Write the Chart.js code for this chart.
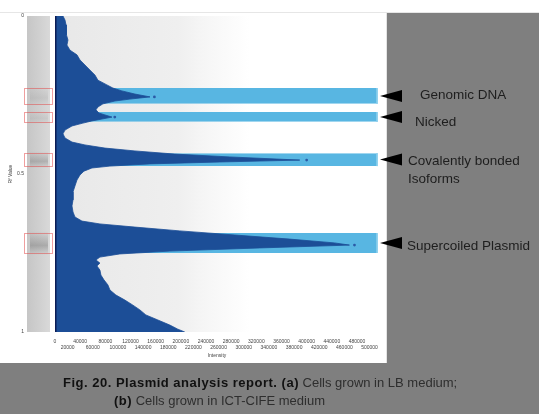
<!DOCTYPE html>
<html>
<head>
<meta charset="utf-8">
<script src="https://cdn.jsdelivr.net/npm/chart.js@4.4.1/dist/chart.umd.min.js"></script>
<style>
  body { margin: 0; width: 539px; height: 414px; background: #7f7f7f; position: relative; overflow: hidden;
         font-family: "Liberation Sans", Arial, sans-serif; }
  #panel { position: absolute; left: 0; top: 0; width: 386px; height: 363px; background: #fff; border-right: 1px solid #e4e4e4; }
  #strip { position: absolute; left: 0; top: 0; width: 539px; height: 12px; background: #fff; border-bottom: 1px solid #e6e6e6; }
  #chart { position: absolute; left: 0; top: 0; }
  .cap { position: absolute; font-size: 13px; color: #2e2e2e; white-space: nowrap; }
  .cap b { color: #111; letter-spacing: 0.5px; }
</style>
</head>
<body>
<div id="panel"></div>
<div id="strip"></div>
<canvas id="chart" width="539" height="414"></canvas>
<div class="cap" style="left:63px; top:375px;"><b>Fig. 20. Plasmid analysis report. (a)</b> Cells grown in LB medium;</div>
<div class="cap" style="left:114px; top:393px;"><b>(b)</b> Cells grown in ICT-CIFE medium</div>
<script>
// Densitometry profile: Rf value vs intensity
const rfValues = [
  0, 0.013, 0.028, 0.044, 0.060, 0.076, 0.092, 0.108, 0.123, 0.139, 0.155, 0.171, 0.187, 0.203, 0.218,
  0.228, 0.237, 0.247, 0.256, 0.263, 0.269, 0.278, 0.288, 0.297, 0.307, 0.313, 0.320, 0.326, 0.332, 0.339,
  0.348, 0.361, 0.373, 0.386, 0.399, 0.408, 0.418, 0.427, 0.437, 0.446, 0.456, 0.462, 0.468, 0.475, 0.481,
  0.491, 0.503, 0.519, 0.538, 0.557, 0.582, 0.601, 0.620, 0.636, 0.649, 0.658, 0.668, 0.680, 0.693, 0.706,
  0.718, 0.725, 0.734, 0.744, 0.753, 0.763, 0.772, 0.782, 0.791, 0.804, 0.820, 0.835, 0.851, 0.867, 0.883,
  0.899, 0.915, 0.930, 0.946, 0.962, 0.978, 0.991, 1
];
const intensities = [
  12700, 15900, 17500, 19000, 17500, 20600, 19000, 23800, 34900, 39700, 47600, 55500, 63500, 68200, 82500,
  92000, 106300, 127000, 151000, 119000, 95200, 76200, 68200, 65100, 69800, 79400, 90500, 74600, 58700, 44400,
  27000, 15900, 12700, 15900, 27000, 47600, 79400, 127000, 190400, 277700, 389000, 262000, 150800, 87300, 58700,
  46000, 39700, 34900, 31700, 28600, 28600, 27000, 28600, 31700, 42800, 71400, 127000, 198400, 285700, 373000,
  444000, 468000, 325000, 182500, 103000, 71400, 65100, 71400, 66700, 71400, 73000, 77800, 84100, 87300, 96800,
  111100, 123800, 134900, 144400, 163500, 182500, 195200, 206300
];

// Detected bands
const bandNames = ['Genomic DNA', 'Nicked', 'Covalently bonded\nIsoforms', 'Supercoiled Plasmid'];
const bandTop = [0.228, 0.304, 0.434, 0.687];
const bandBottom = [0.278, 0.335, 0.475, 0.750];
const bandEnd = [512000, 512000, 512000, 512000];
const peakRf = [0.256, 0.320, 0.456, 0.725];
const peakMark = [158000, 95000, 400000, 476000];

// Axis ticks
const xTickValues = [0, 20000, 40000, 60000, 80000, 100000, 120000, 140000, 160000, 180000, 200000, 220000, 240000,
  260000, 280000, 300000, 320000, 340000, 360000, 380000, 400000, 420000, 440000, 460000, 480000, 500000];
const yTickValues = [0, 0.5, 1];

const FONT = '"Liberation Sans", Arial, sans-serif';

const profile = rfValues.map((r, i) => ({ x: intensities[i], y: r }));
const peaks = peakRf.map((r, i) => ({ x: peakMark[i], y: r }));
const bandSets = bandNames.map((n, i) => ({
  label: n,
  data: [{ x: bandEnd[i], y: bandTop[i] }, { x: bandEnd[i], y: bandBottom[i] }],
  fill: 'origin',
  backgroundColor: '#58b6e2',
  borderColor: '#8fd0ee',
  borderWidth: 1,
  pointRadius: 0,
  order: 3
}));

// plot background + gel lane on the left
const lanePlugin = {
  id: 'lane',
  beforeDatasetsDraw(chart) {
    const { ctx, chartArea: a, scales: { y } } = chart;
    ctx.save();
    const g = ctx.createLinearGradient(a.left, 0, a.right, 0);
    g.addColorStop(0, '#e8e8e8');
    g.addColorStop(0.38, '#efefef');
    g.addColorStop(0.45, '#f5f5f5');
    g.addColorStop(0.6, '#ffffff');
    g.addColorStop(1, '#ffffff');
    ctx.fillStyle = g;
    ctx.fillRect(a.left, a.top, a.width, a.height);

    const top = y.getPixelForValue(0), bot = y.getPixelForValue(1);
    const lg = ctx.createLinearGradient(27, 0, 50, 0);
    lg.addColorStop(0, '#c6c6c6');
    lg.addColorStop(0.5, '#cfcfcf');
    lg.addColorStop(1, '#d9d9d9');
    ctx.fillStyle = lg;
    ctx.fillRect(27, top, 23, bot - top);

    const shade = [0.12, 0.1, 0.3, 0.35];
    bandNames.forEach((n, i) => {
      const y0 = y.getPixelForValue(bandTop[i]), y1 = y.getPixelForValue(bandBottom[i]);
      const bg = ctx.createLinearGradient(0, y0 - 2, 0, y1 + 2);
      bg.addColorStop(0, 'rgba(90,90,90,0)');
      bg.addColorStop(0.6, `rgba(90,90,90,${shade[i]})`);
      bg.addColorStop(1, 'rgba(90,90,90,0)');
      ctx.fillStyle = bg;
      ctx.fillRect(30, y0 - 2, 18, y1 - y0 + 4);
      ctx.strokeStyle = 'rgba(225,80,80,0.55)';
      ctx.lineWidth = 1;
      ctx.strokeRect(24.5, Math.round(y0) + 0.5, 28, Math.round(y1 - y0));
    });
    ctx.restore();
  }
};

// arrows and band names in the grey margin
const labelPlugin = {
  id: 'bandLabels',
  afterDraw(chart) {
    const { ctx, chartArea: a, scales: { y } } = chart;
    const indent = [13, 8, 1, 0];
    const dy = [-1, 5, 2, 3];
    ctx.save();
    ctx.font = '13.5px ' + FONT;
    ctx.textBaseline = 'middle';
    bandNames.forEach((name, i) => {
      const cy = y.getPixelForValue((bandTop[i] + bandBottom[i]) / 2);
      ctx.fillStyle = '#000';
      ctx.beginPath();
      ctx.moveTo(a.right + 1, cy);
      ctx.lineTo(a.right + 23, cy - 6);
      ctx.lineTo(a.right + 23, cy + 6);
      ctx.closePath();
      ctx.fill();
      ctx.fillStyle = '#1e1e1e';
      name.split('\n').forEach((line, k) => {
        ctx.fillText(line, a.right + 28 + indent[i], cy + dy[i] + k * 18);
      });
    });
    ctx.restore();
  }
};

new Chart(document.getElementById('chart'), {
  type: 'line',
  data: {
    datasets: [
      { label: 'Baseline', data: [{ x: 0, y: 0 }, { x: 0, y: 1 }], borderColor: '#0b1c55', borderWidth: 3,
        pointRadius: 0, fill: false, order: 0 },
      { label: 'Peaks', data: peaks, showLine: false, pointRadius: 1.4, pointBorderWidth: 0,
        pointBackgroundColor: '#2b5aa6', order: 0 },
      { label: 'Profile', data: profile, fill: 'origin', backgroundColor: '#1c4e97', borderColor: '#1c4e97',
        borderWidth: 0.8, pointRadius: 0, tension: 0, order: 1 },
      ...bandSets
    ]
  },
  options: {
    indexAxis: 'y',
    responsive: false,
    devicePixelRatio: 1,
    animation: false,
    events: [],
    layout: { padding: { top: 16, right: 160, bottom: 52, left: 0 } },
    plugins: { legend: { display: false }, tooltip: { enabled: false } },
    scales: {
      x: {
        type: 'linear', position: 'bottom', min: 0, max: 515000,
        grid: { display: true, drawOnChartArea: false, drawTicks: true, tickLength: 5, color: 'transparent' },
        border: { display: false },
        ticks: {
          autoSkip: false, maxRotation: 0, minRotation: 0, padding: 1,
          color: '#444', font: { family: FONT, size: 5, lineHeight: 1.3 },
          callback: (v, i) => (i % 2 ? ['', String(v)] : String(v))
        },
        afterBuildTicks: s => { s.ticks = xTickValues.map(v => ({ value: v })); },
        afterFit: s => { s.height = 30; },
        title: { display: true, text: 'Intensity', color: '#444', font: { family: FONT, size: 5 }, padding: { bottom: 3, top: 0 } }
      },
      y: {
        type: 'linear', reverse: true, min: 0, max: 1,
        grid: { display: true, drawOnChartArea: false, drawTicks: true, tickLength: 29, color: 'transparent' },
        border: { display: false },
        ticks: { padding: 2, color: '#444', font: { family: FONT, size: 5 }, callback: v => String(v) },
        afterBuildTicks: s => { s.ticks = yTickValues.map(v => ({ value: v })); },
        afterFit: s => { s.width = 55; },
        title: { display: true, text: 'Rf Value', color: '#444', font: { family: FONT, size: 5 }, padding: { top: 8, bottom: 0 } }
      }
    }
  },
  plugins: [lanePlugin, labelPlugin]
});
</script>
</body>
</html>
